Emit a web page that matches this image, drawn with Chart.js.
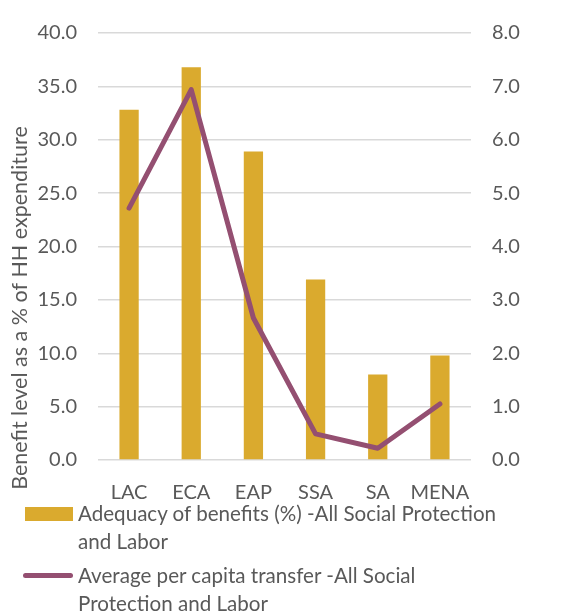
<!DOCTYPE html>
<html>
<head>
<meta charset="utf-8">
<script src="https://cdn.jsdelivr.net/npm/chart.js@4/dist/chart.umd.min.js"></script>
<style>
  html, body { margin: 0; padding: 0; background: #fff; }
  #wrap { position: relative; width: 563px; height: 612px; }
  #legend { position: absolute; left: 0; top: 496px; font-family: Lato, sans-serif; font-size: 20.6px; color: #595959; }
  .item { position: absolute; left: 78px; width: 480px; line-height: 28px; white-space: nowrap; }
  .swatch { position: absolute; }
</style>
</head>
<body>
<div id="wrap">
  <canvas id="chart" width="563" height="612"></canvas>
  <div id="legend"></div>
</div>
<script>
// --- data ---
const regions = ['LAC', 'ECA', 'EAP', 'SSA', 'SA', 'MENA'];
const adequacy = [32.8, 36.8, 28.9, 16.9, 8.0, 9.8];
const perCapita = [4.72, 6.94, 2.66, 0.49, 0.22, 1.05];
const seriesLines = [
    ['Adequacy of benefits (%) -All Social Protection', 'and Labor'],
    ['Average per capita transfer -All Social', 'Protection and Labor']
];
const axisTitle = 'Benefit level as a % of HH expenditure';

const GOLD = '#DAAA2E';
const PLUM = '#944F71';
const TEXT = '#595959';
const font = { family: 'Lato, sans-serif', size: 20 };

// --- html legend, wrapped like the original ---
const legend = document.getElementById('legend');
legend.innerHTML = `
  <div class="swatch" style="left:25px;top:11px;width:48px;height:14px;background:${GOLD}"></div>
  <div class="item" style="top:3px">${seriesLines[0].join('<br>')}</div>
  <div class="swatch" style="left:23px;top:77px;width:50px;height:5px;border-radius:3px;background:${PLUM}"></div>
  <div class="item" style="top:65px">${seriesLines[1].join('<br>')}</div>`;

// y title centred on the whole canvas height, as in the original
const sideTitle = {
    id: 'sideTitle',
    afterDraw(chart) {
        const ctx = chart.ctx;
        ctx.save();
        ctx.translate(20, chart.height / 2 + 2);
        ctx.rotate(-Math.PI / 2);
        ctx.font = '21.5px Lato, sans-serif';
        ctx.fillStyle = TEXT;
        ctx.textAlign = 'center';
        ctx.textBaseline = 'middle';
        ctx.fillText(axisTitle, 0, 0);
        ctx.restore();
    }
};

// --- chart ---
new Chart(document.getElementById('chart').getContext('2d'), {
    data: {
        labels: regions,
        datasets: [
            { type: 'line', label: seriesLines[1].join(' '), data: perCapita, yAxisID: 'y1',
              borderColor: PLUM, borderWidth: 5, borderCapStyle: 'round', borderJoinStyle: 'round',
              pointRadius: 0, tension: 0, order: 0 },
            { type: 'bar', label: seriesLines[0].join(' '), data: adequacy, yAxisID: 'y',
              backgroundColor: GOLD, barPercentage: 0.31, categoryPercentage: 1, order: 1 }
        ]
    },
    options: {
        responsive: false,
        animation: false,
        layout: { padding: { top: 24, bottom: 107, left: 0, right: 0 } },
        plugins: { legend: { display: false }, tooltip: { enabled: false } },
        scales: {
            x: {
                grid: { display: false, drawTicks: false },
                border: { display: false },
                ticks: { color: TEXT, font: font, padding: 21, maxRotation: 0 },
                afterFit: s => { s.height = 45; }
            },
            y: {
                position: 'left', min: 0, max: 40,
                ticks: { stepSize: 5, color: TEXT, font: font, padding: 21, callback: v => v.toFixed(1) },
                grid: { color: '#D9D9D9', lineWidth: 1.5, drawTicks: false },
                border: { display: false },
                afterFit: s => { s.width = 98; }
            },
            y1: {
                position: 'right', min: 0, max: 8,
                ticks: { stepSize: 1, color: TEXT, font: font, padding: 21, callback: v => v.toFixed(1) },
                grid: { drawOnChartArea: false, drawTicks: false },
                border: { display: false },
                afterFit: s => { s.width = 92; }
            }
        }
    },
    plugins: [sideTitle]
});
</script>
</body>
</html>
